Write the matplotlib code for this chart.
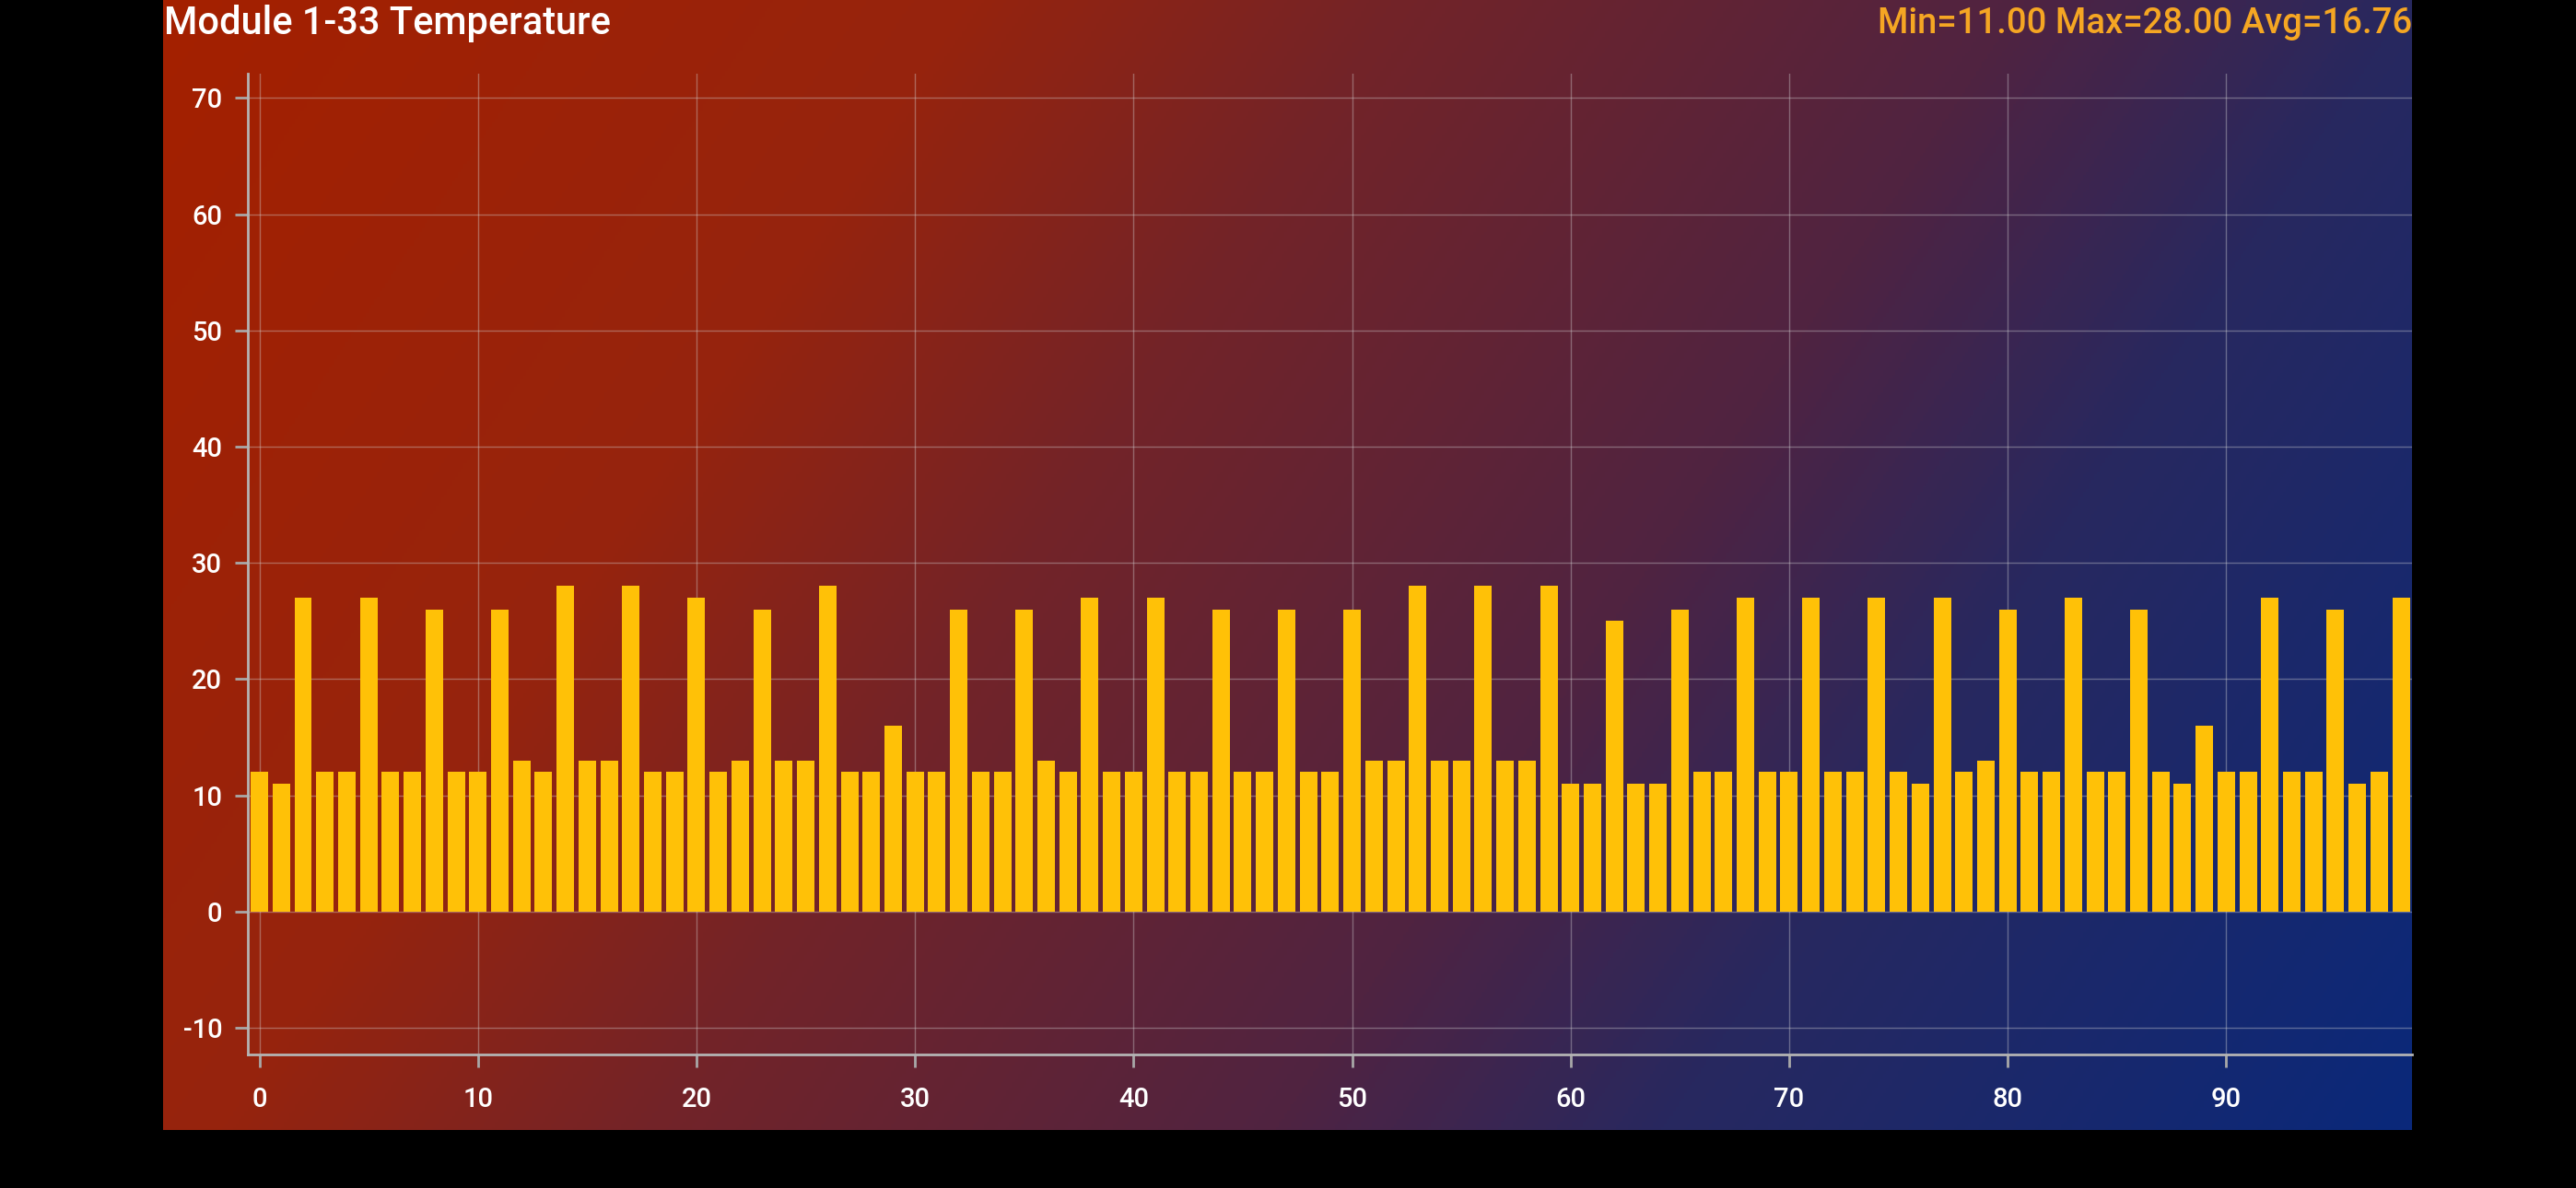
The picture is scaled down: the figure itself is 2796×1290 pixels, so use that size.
import numpy as np
import matplotlib.pyplot as plt
from matplotlib.colors import LinearSegmentedColormap

# temperature per sample (index 0..98)
temps = [12, 11, 27, 12, 12, 27, 12, 12, 26, 12,
         12, 26, 13, 12, 28, 13, 13, 28, 12, 12,
         27, 12, 13, 26, 13, 13, 28, 12, 12, 16,
         12, 12, 26, 12, 12, 26, 13, 12, 27, 12,
         12, 27, 12, 12, 26, 12, 12, 26, 12, 12,
         26, 13, 13, 28, 13, 13, 28, 13, 13, 28,
         11, 11, 25, 11, 11, 26, 12, 12, 27, 12,
         12, 27, 12, 12, 27, 12, 11, 27, 12, 13,
         26, 12, 12, 27, 12, 12, 26, 12, 11, 16,
         12, 12, 27, 12, 12, 26, 11, 12, 27]
x_ticks = list(range(0, 100, 10))
y_ticks = list(range(-10, 80, 10))
title = "Module 1-33 Temperature"

plt.rcParams['font.family'] = ['Roboto', 'DejaVu Sans']
plt.rcParams['axes.unicode_minus'] = False

W, H = 2796, 1290
fig = plt.figure(figsize=(W / 100, H / 100), dpi=100, facecolor='black')

# gradient panel behind the chart
bg = fig.add_axes([177 / W, (H - 1227) / H, (2618 - 177) / W, 1227 / H])
bg.axis('off')
xx, yy = np.meshgrid(np.linspace(0, 1, 800), np.linspace(0, 1, 400))
grad = 0.75 * xx + 0.25 * yy
cmap = LinearSegmentedColormap.from_list('bg', [
    (0.0, '#a42000'), (0.27, '#96240e'), (0.41, '#732328'),
    (0.62, '#502341'), (0.75, '#28285f'), (1.0, '#0a287a')])
bg.imshow(grad, cmap=cmap, vmin=0, vmax=1, aspect='auto', extent=(0, 1, 1, 0))

ax = fig.add_axes([269 / W, (H - 1145) / H, (2618 - 269) / W, (1145 - 80) / H])
ax.patch.set_alpha(0)

idx = np.arange(len(temps))
ax.bar(idx, temps, width=0.8, color='#ffc107', zorder=3)

ax.set_xlim(-0.53, 98.5)
ax.set_ylim(-12.3, 72.1)
ax.set_xticks(x_ticks)
ax.set_yticks(y_ticks)
ax.grid(True, color='#d8d8d8', alpha=0.38, linewidth=1)
ax.set_axisbelow(True)

for side in ['top', 'right']:
    ax.spines[side].set_visible(False)
for side in ['left', 'bottom']:
    ax.spines[side].set_color('#b4b4b4')
    ax.spines[side].set_linewidth(2)

ax.tick_params(colors='#a8a8a8', labelcolor='white', labelsize=21,
               length=10, width=2)
ax.tick_params(axis='y', pad=10)
ax.tick_params(axis='x', pad=15)
for lab in ax.get_xticklabels() + ax.get_yticklabels():
    lab.set_fontweight('medium')

stats = "Min={:.2f} Max={:.2f} Avg={:.2f}".format(min(temps), max(temps), np.mean(temps))
fig.text(178 / W, 1 - 25 / H, title, color='white', fontsize=30,
         ha='left', va='center', fontweight='medium')
fig.text(2618 / W, 1 - 25 / H, stats, color='#f5a623', fontsize=27.5,
         ha='right', va='center', fontweight='medium')

fig.savefig('out.png', dpi=100, facecolor='black')
